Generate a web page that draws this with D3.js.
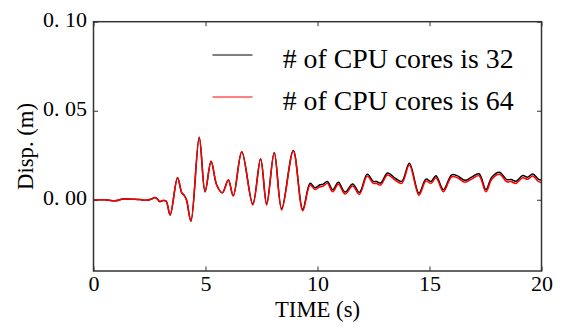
<!DOCTYPE html>
<html><head><meta charset="utf-8">
<script src="https://cdn.jsdelivr.net/npm/d3@7"></script>
<style>body{margin:0;background:#fff}svg{display:block}</style>
</head><body>
<script>
const times = [0,0.5,0.96,1.32,1.85,2.08,2.34,2.6,2.75,2.88,2.95,3.1,3.24,3.42,3.75,3.94,4.04,4.15,4.35,4.72,4.98,5.25,5.5,5.75,6.02,6.24,6.62,7.11,7.46,7.73,8.07,8.4,8.92,9.34,9.67,9.89,10.11,10.26,10.44,10.68,10.93,11.23,11.57,11.87,12.22,12.49,12.64,12.82,13.13,13.46,13.76,14.1,14.53,14.84,15.07,15.29,15.62,15.99,16.27,16.58,16.88,17.21,17.52,17.78,18.12,18.45,18.64,18.86,19.16,19.38,19.61,19.84,20];
const cores64 = [0,0,-0.0006,0.0004,0.0003,0.0001,-0.0003,0.0004,0.0013,0.0001,-0.001,-0.0004,-0.0007,-0.0085,0.0124,0.0039,0.0026,0,-0.012,0.0351,0.0045,0.0217,0.0083,0.0039,0.0111,0.0022,0.027,-0.003,0.0229,-0.003,0.0264,-0.0058,0.0274,-0.0062,0.0083,0.0058,0.0073,0.0077,0.0092,0.0045,0.0087,0.0032,0.0077,0.003,0.0133,0.0092,0.0091,0.0083,0.0139,0.0111,0.0092,0.0195,0.0026,0.0105,0.0092,0.0124,0.0045,0.0129,0.0122,0.0098,0.0116,0.0135,0.0045,0.0115,0.0143,0.0101,0.0102,0.0092,0.0124,0.0115,0.0133,0.0105,0.0096];
const cores32 = [0,0,-0.0006,0.0004,0.0003,0.0001,-0.0003,0.0004,0.0013,0.0001,-0.001,-0.0004,-0.0007,-0.0085,0.0124,0.0039,0.0026,0,-0.012,0.0351,0.0045,0.0217,0.0083,0.0039,0.0111,0.0022,0.027,-0.0022,0.0231,-0.0022,0.0266,-0.005,0.0277,-0.0054,0.0093,0.0068,0.0084,0.0088,0.0103,0.0056,0.0098,0.0043,0.0088,0.0041,0.0144,0.0103,0.0102,0.0094,0.015,0.0122,0.0103,0.0205,0.0037,0.0116,0.0103,0.0135,0.0056,0.014,0.0133,0.0109,0.0127,0.0146,0.0057,0.0127,0.0155,0.0113,0.0114,0.0104,0.0136,0.0127,0.0145,0.0118,0.011];
const xTicks = [0,5,10,15,20];
const yTicks = [0,0.05,0.10];
const yTickLabels = ["0. 00","0. 05","0. 10"];
const seriesNames = ["# of CPU cores is 32","# of CPU cores is 64"];
const seriesColors = ["#000000","#ff0000"];

const W=562,H=331;
const m={l:93.5,r:541.5,t:21.7,b:271};
const svg=d3.select("body").append("svg").attr("width",W).attr("height",H);
const x=d3.scaleLinear().domain([0,20]).range([m.l,m.r]);
const y=d3.scaleLinear().domain([-0.04,0.10]).range([m.b,m.t]);
const font="'Liberation Serif','Times New Roman',serif";

const line=d3.line().x((d,i)=>x(times[i])).y(d=>y(d)).curve(d3.curveCatmullRom.alpha(0.5));
const plot=svg.append("g");
[cores32,cores64].forEach((s,k)=>{
  plot.append("path").datum(s).attr("d",line).attr("fill","none")
    .attr("stroke",seriesColors[k]).attr("stroke-width",1.5).attr("stroke-linejoin","round");
});

// axes (inward ticks, all four sides)
const tl=4.5;
const gB=svg.append("g").attr("transform",`translate(0,${m.b})`)
  .call(d3.axisBottom(x).tickValues(xTicks).tickSizeInner(-tl).tickSizeOuter(0).tickPadding(8).tickFormat(d3.format("d")));
const gT=svg.append("g").attr("transform",`translate(0,${m.t})`)
  .call(d3.axisTop(x).tickValues(xTicks).tickSizeInner(-tl).tickSizeOuter(0).tickFormat(""));
const gL=svg.append("g").attr("transform",`translate(${m.l},0)`)
  .call(d3.axisLeft(y).tickValues(yTicks).tickSizeInner(-tl).tickSizeOuter(0).tickPadding(6).tickFormat((d,i)=>yTickLabels[i]));
const gR=svg.append("g").attr("transform",`translate(${m.r},0)`)
  .call(d3.axisRight(y).tickValues(yTicks).tickSizeInner(-tl).tickSizeOuter(0).tickFormat(""));
[gB,gT,gL,gR].forEach(g=>{
  g.select(".domain").remove();
  g.selectAll(".tick line").attr("stroke","#333").attr("stroke-width",1);
  g.selectAll(".tick text").attr("font-family",font).attr("font-size",22).attr("fill","#000");
});
gL.selectAll(".tick text").attr("x",-6.5).attr("dy",5);
gB.selectAll(".tick text").attr("y",20).attr("dy",0);

svg.append("rect").attr("x",m.l).attr("y",m.t).attr("width",m.r-m.l).attr("height",m.b-m.t)
  .attr("fill","none").attr("stroke","#333").attr("stroke-width",1.5);

svg.append("text").attr("x",x(10)).attr("y",317).attr("text-anchor","middle")
  .attr("font-family",font).attr("font-size",22.7).text("TIME (s)");
svg.append("text").attr("transform",`translate(33,146.5) rotate(-90)`).attr("text-anchor","middle")
  .attr("font-family",font).attr("font-size",22.7).text("Disp. (m)");

// legend
const leg=svg.append("g");
seriesNames.forEach((n,k)=>{
  const yy=55+k*42;
  leg.append("line").attr("x1",212.5).attr("x2",252.5).attr("y1",yy).attr("y2",yy)
    .attr("stroke",seriesColors[k]).attr("stroke-width",1);
  leg.append("text").attr("x",282.7).attr("y",yy+12.7).attr("font-family",font).attr("font-size",27.8).text(n);
});
</script>
</body></html>
